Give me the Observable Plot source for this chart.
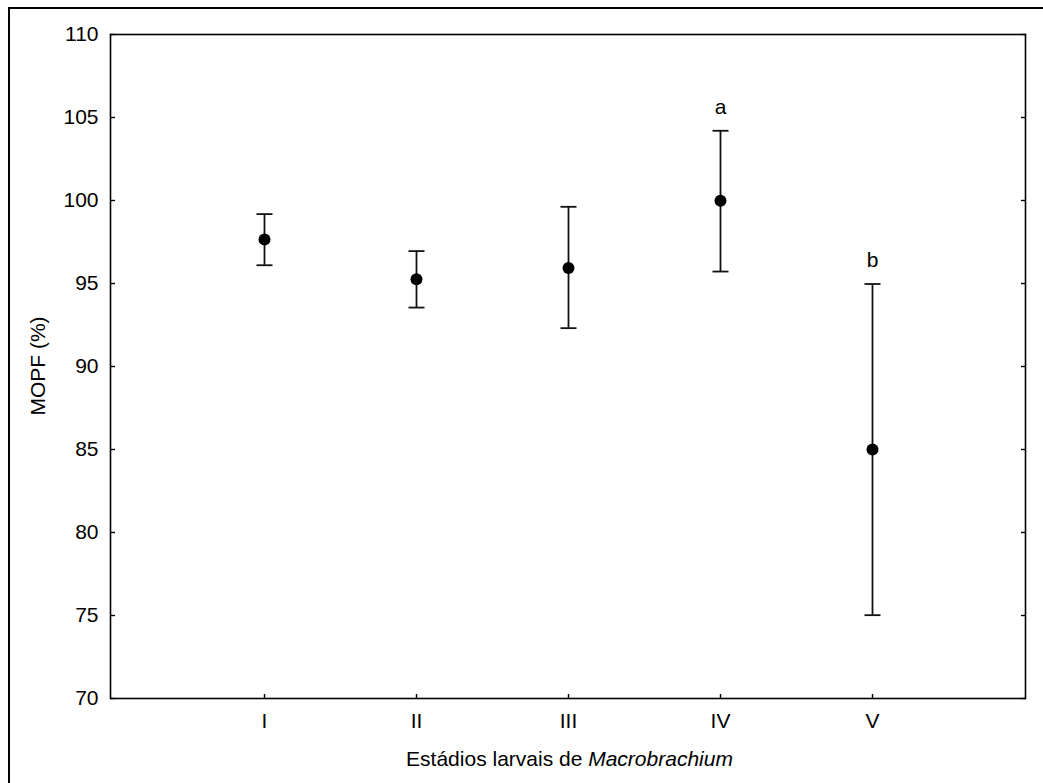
<!DOCTYPE html>
<html><head><meta charset="utf-8">
<script src="https://cdn.jsdelivr.net/npm/d3@7"></script>
<script src="https://cdn.jsdelivr.net/npm/@observablehq/plot@0.6"></script>
<style>
body{margin:0;background:#fff;}
#wrap{position:relative;width:1043px;height:783px;overflow:hidden;}
#border{position:absolute;left:8px;top:7px;width:1100px;height:900px;border-left:2px solid #000;border-top:2px solid #000;box-sizing:border-box;pointer-events:none;}
#chart{position:absolute;left:0;top:0;}
</style></head><body><div id="wrap"><div id="border"></div><div id="chart"></div></div>
<script>
const stages = ["I", "II", "III", "IV", "V"];
const means = [97.65, 95.26, 95.94, 99.98, 85.0];
const upper = [99.18, 96.95, 99.62, 104.2, 94.97];
const lower = [96.1, 93.55, 92.31, 95.72, 75.02];
const letters = ["", "", "", "a", "b"];
const yTicks = [70, 75, 80, 85, 90, 95, 100, 105, 110];
const yLabel = "MOPF (%)";
const xLabelPlain = "Estádios larvais de ";
const xLabelItalic = "Macrobrachium";

const data = stages.map((s, i) => ({stage: s, mean: means[i], hi: upper[i], lo: lower[i], letter: letters[i]}));

// horizontal cap symbol for error bars
const capSymbol = {draw(context) { context.moveTo(-8, 0); context.lineTo(8, 0); }};

const plot = Plot.plot({
  width: 1043, height: 783,
  marginLeft: 110, marginRight: 18, marginTop: 34, marginBottom: 85,
  style: {fontFamily: '"Liberation Sans", Arial, sans-serif', fontSize: "21px", color: "#000", background: "transparent", overflow: "visible"},
  x: {type: "point", domain: stages, padding: 1},
  y: {domain: [70, 110]},
  marks: [
    Plot.frame({stroke: "#000", strokeWidth: 1.6}),
    Plot.axisY(yTicks, {anchor: "left", tickSize: -5, tickPadding: 17, strokeWidth: 1.4, label: null, fontSize: 21}),
    Plot.axisY(yTicks, {anchor: "right", tickSize: -5, strokeWidth: 1.4, tickFormat: () => "", label: null}),
    Plot.axisX(stages, {anchor: "bottom", tickSize: -4, tickPadding: 19, strokeWidth: 1.4, label: null, fontSize: 21}),
    Plot.ruleX(data, {x: "stage", y1: "lo", y2: "hi", stroke: "#111", strokeWidth: 1.8}),
    Plot.dot(data, {x: "stage", y: "hi", symbol: capSymbol, stroke: "#111", strokeWidth: 1.8, fill: "none"}),
    Plot.dot(data, {x: "stage", y: "lo", symbol: capSymbol, stroke: "#111", strokeWidth: 1.8, fill: "none"}),
    Plot.dot(data, {x: "stage", y: "mean", r: 6, fill: "#000", stroke: null}),
    Plot.text(data.filter(d => d.letter), {x: "stage", y: "hi", text: "letter", dy: -24, fontSize: 21, fill: "#000"})
  ]
});

const xr = plot.scale("x").range;
const yr = plot.scale("y").range;
const svg = d3.select(plot);
const t = svg.append("text")
  .attr("x", (xr[0] + xr[1]) / 2 + 2)
  .attr("y", Math.max(yr[0], yr[1]) + 68)
  .attr("text-anchor", "middle")
  .attr("font-size", 21)
  .attr("fill", "#000");
t.append("tspan").text(xLabelPlain);
t.append("tspan").attr("font-style", "italic").text(xLabelItalic);

svg.append("text")
  .attr("transform", `translate(45,${(yr[0] + yr[1]) / 2}) rotate(-90)`)
  .attr("text-anchor", "middle")
  .attr("font-size", 21)
  .attr("fill", "#000")
  .text(yLabel);

document.getElementById("chart").appendChild(plot);
</script>
</body></html>
